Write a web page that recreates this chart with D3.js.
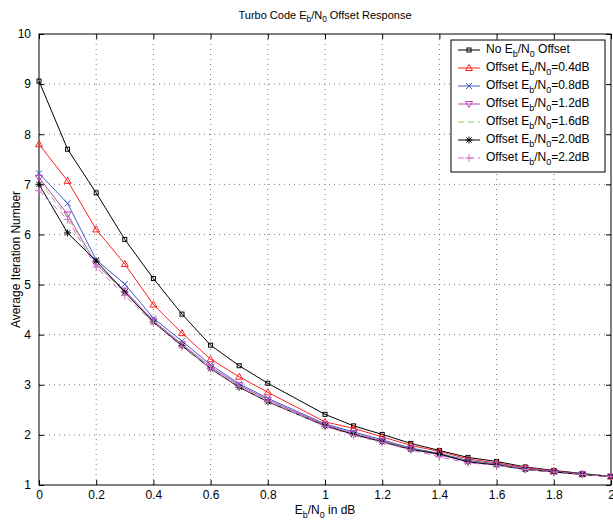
<!DOCTYPE html>
<html>
<head>
<meta charset="utf-8">
<script src="https://cdn.jsdelivr.net/npm/d3@7"></script>
<style>
  body { margin: 0; background: #fff; }
  text { font-family: "Liberation Sans", Arial, sans-serif; fill: #000; }
</style>
</head>
<body>
<div id="chart"></div>
<script>
var ebno = [0, 0.1, 0.2, 0.3, 0.4, 0.5, 0.6, 0.7, 0.8, 1.0, 1.1, 1.2, 1.3, 1.4, 1.5, 1.6, 1.7, 1.8, 1.9, 2.0];

var noOffset = [9.06, 7.70, 6.83, 5.90, 5.12, 4.41, 3.79, 3.38, 3.03, 2.41, 2.18, 2.01, 1.83, 1.69, 1.55, 1.47, 1.36, 1.29, 1.23, 1.17];
var off04 = [7.80, 7.07, 6.10, 5.41, 4.60, 4.03, 3.51, 3.16, 2.85, 2.26, 2.13, 1.96, 1.79, 1.67, 1.52, 1.44, 1.35, 1.28, 1.22, 1.17];
var off08 = [7.22, 6.62, 5.49, 5.01, 4.33, 3.87, 3.40, 3.02, 2.73, 2.22, 2.06, 1.90, 1.74, 1.63, 1.49, 1.42, 1.33, 1.27, 1.22, 1.17];
var off12 = [7.13, 6.40, 5.40, 4.88, 4.28, 3.81, 3.36, 2.99, 2.70, 2.20, 2.03, 1.88, 1.72, 1.60, 1.47, 1.41, 1.32, 1.26, 1.21, 1.17];
var off16 = [7.05, 6.35, 5.42, 4.83, 4.26, 3.80, 3.34, 2.97, 2.68, 2.18, 2.02, 1.87, 1.72, 1.61, 1.47, 1.40, 1.32, 1.26, 1.21, 1.17];
var off20 = [7.00, 6.03, 5.47, 4.85, 4.25, 3.78, 3.32, 2.95, 2.66, 2.18, 2.01, 1.86, 1.71, 1.62, 1.46, 1.40, 1.31, 1.26, 1.21, 1.17];
var off22 = [6.87, 6.30, 5.35, 4.78, 4.24, 3.76, 3.33, 2.96, 2.67, 2.17, 1.99, 1.85, 1.70, 1.56, 1.44, 1.39, 1.31, 1.26, 1.21, 1.17];

var legendOffsets = ["0.4", "0.8", "1.2", "1.6", "2.0", "2.2"];
var xTicks = [0, 0.2, 0.4, 0.6, 0.8, 1, 1.2, 1.4, 1.6, 1.8, 2];
var yTicks = [1, 2, 3, 4, 5, 6, 7, 8, 9, 10];

var series = [
  { values: noOffset, color: "#000000", marker: "square", dash: null },
  { values: off04, color: "#ff2020", marker: "triangle", dash: null },
  { values: off08, color: "#3a5fc8", marker: "cross", dash: null },
  { values: off12, color: "#c040c0", marker: "down", dash: null },
  { values: off16, color: "#88cc66", marker: "none", dash: "6,4" },
  { values: off20, color: "#000000", marker: "star", dash: null },
  { values: off22, color: "#d070cc", marker: "plus", dash: "6,4" }
];

var margin = {top: 34, right: 2, bottom: 37, left: 39}
  , width = 613 - margin.left - margin.right
  , height = 522 - margin.top - margin.bottom;

var x = d3.scaleLinear().domain([0, 2]).range([0, width]);
var y = d3.scaleLinear().domain([1, 10]).range([height, 0]);

var svg = d3.select("#chart").append("svg")
  .attr("width", 613).attr("height", 522);

var main = svg.append("g")
  .attr("transform", "translate(" + margin.left + "," + margin.top + ")");

// grid
main.append("g").selectAll("line").data(xTicks.slice(1, -1)).enter().append("line")
  .attr("x1", function(d) { return x(d); }).attr("x2", function(d) { return x(d); })
  .attr("y1", 0).attr("y2", height)
  .attr("stroke", "#555").attr("stroke-width", 0.8).attr("stroke-dasharray", "1,4");
main.append("g").selectAll("line").data(yTicks.slice(1, -1)).enter().append("line")
  .attr("y1", function(d) { return y(d); }).attr("y2", function(d) { return y(d); })
  .attr("x1", 0).attr("x2", width)
  .attr("stroke", "#555").attr("stroke-width", 0.8).attr("stroke-dasharray", "1,4");

// axes (ticks inside, MATLAB style)
var fmt = function(d) { return d3.format("~g")(d); };
main.append("g").attr("transform", "translate(0," + height + ")")
  .call(d3.axisBottom(x).tickValues(xTicks).tickFormat(fmt).tickSizeInner(-5).tickSizeOuter(0).tickPadding(5));
main.append("g")
  .call(d3.axisTop(x).tickValues(xTicks).tickFormat("").tickSizeInner(-5).tickSizeOuter(0));
main.append("g")
  .call(d3.axisLeft(y).tickValues(yTicks).tickFormat(fmt).tickSizeInner(-5).tickSizeOuter(0).tickPadding(8));
main.append("g").attr("transform", "translate(" + width + ",0)")
  .call(d3.axisRight(y).tickValues(yTicks).tickFormat("").tickSizeInner(-5).tickSizeOuter(0));
main.selectAll(".domain").remove();
main.selectAll(".tick line").attr("stroke", "#000");
main.selectAll(".tick text").style("font-size", "12px").style("font-family", "Liberation Sans, Arial, sans-serif");

main.append("rect").attr("width", width).attr("height", height)
  .attr("fill", "none").attr("stroke", "#000").attr("stroke-width", 1);

// marker drawing
function drawMarker(g, type, color, cx, cy) {
  if (type === "square") {
    g.append("rect").attr("x", cx - 2).attr("y", cy - 2).attr("width", 4).attr("height", 4)
      .attr("fill", "none").attr("stroke", color);
  } else if (type === "triangle") {
    g.append("path").attr("d", "M" + cx + "," + (cy - 3.5) + "L" + (cx + 3.5) + "," + (cy + 2.5) + "L" + (cx - 3.5) + "," + (cy + 2.5) + "Z")
      .attr("fill", "none").attr("stroke", color);
  } else if (type === "down") {
    g.append("path").attr("d", "M" + cx + "," + (cy + 3.5) + "L" + (cx + 3.5) + "," + (cy - 2.5) + "L" + (cx - 3.5) + "," + (cy - 2.5) + "Z")
      .attr("fill", "none").attr("stroke", color);
  } else if (type === "cross") {
    g.append("path").attr("d", "M" + (cx - 3) + "," + (cy - 3) + "L" + (cx + 3) + "," + (cy + 3) + "M" + (cx - 3) + "," + (cy + 3) + "L" + (cx + 3) + "," + (cy - 3))
      .attr("stroke", color);
  } else if (type === "plus") {
    g.append("path").attr("d", "M" + (cx - 4) + "," + cy + "L" + (cx + 4) + "," + cy + "M" + cx + "," + (cy - 4) + "L" + cx + "," + (cy + 4))
      .attr("stroke", color);
  } else if (type === "star") {
    g.append("path").attr("d", "M" + (cx - 3.5) + "," + cy + "L" + (cx + 3.5) + "," + cy + "M" + cx + "," + (cy - 3.5) + "L" + cx + "," + (cy + 3.5) +
      "M" + (cx - 2.6) + "," + (cy - 2.6) + "L" + (cx + 2.6) + "," + (cy + 2.6) + "M" + (cx - 2.6) + "," + (cy + 2.6) + "L" + (cx + 2.6) + "," + (cy - 2.6))
      .attr("stroke", color);
  }
}

var line = d3.line()
  .x(function(d, i) { return x(ebno[i]); })
  .y(function(d) { return y(d); });

var plot = main.append("g");
series.forEach(function(s) {
  plot.append("path")
    .datum(s.values)
    .attr("fill", "none")
    .attr("stroke", s.color)
    .attr("stroke-width", 1)
    .attr("stroke-dasharray", s.dash)
    .attr("d", line);
  var mg = plot.append("g");
  s.values.forEach(function(v, i) {
    drawMarker(mg, s.marker, s.color, x(ebno[i]), y(v));
  });
});

// subscript helper for E_b/N_0
function ebnoText(t, before, after, size) {
  var sub = Math.round(size * 0.3);
  t.append("tspan").text(before + "E");
  t.append("tspan").text("b").attr("dy", sub).style("font-size", (size * 0.75) + "px");
  t.append("tspan").text("/N").attr("dy", -sub);
  t.append("tspan").text("0").attr("dy", sub).style("font-size", (size * 0.75) + "px");
  t.append("tspan").text(after).attr("dy", -sub);
}

// title
var title = svg.append("text").attr("x", margin.left + width / 2).attr("y", 19)
  .attr("text-anchor", "middle").style("font-size", "11px");
ebnoText(title, "Turbo Code ", " Offset Response", 11);

// x label
var xl = svg.append("text").attr("x", margin.left + width / 2).attr("y", 514)
  .attr("text-anchor", "middle").style("font-size", "12px");
ebnoText(xl, "", " in dB", 12);

// y label
svg.append("text")
  .attr("transform", "translate(20," + (margin.top + height / 2) + ") rotate(-90)")
  .attr("text-anchor", "middle").style("font-size", "12px")
  .text("Average Iteration Number");

// legend
var lg = svg.append("g").attr("transform", "translate(451,40)");
lg.append("rect").attr("width", 154).attr("height", 132)
  .attr("fill", "#fff").attr("stroke", "#000").attr("stroke-width", 1);
series.forEach(function(s, i) {
  var ly = 10 + i * 18;
  lg.append("line").attr("x1", 7).attr("x2", 29).attr("y1", ly).attr("y2", ly)
    .attr("stroke", s.color).attr("stroke-dasharray", s.dash);
  drawMarker(lg, s.marker, s.color, 18, ly);
  var t = lg.append("text").attr("x", 35).attr("y", ly + 3).style("font-size", "12px");
  if (i === 0) ebnoText(t, "No ", " Offset", 12);
  else ebnoText(t, "Offset ", "=" + legendOffsets[i - 1] + "dB", 12);
});
</script>
</body>
</html>
